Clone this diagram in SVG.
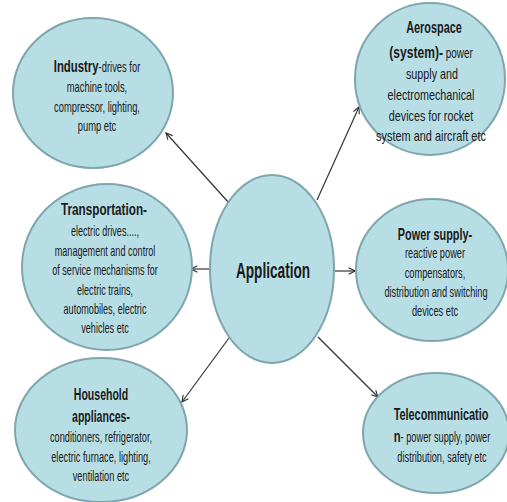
<svg xmlns="http://www.w3.org/2000/svg" width="507" height="502" viewBox="0 0 507 502">
  <style>
    .bubble { fill: #b7dde5; stroke: #7fa6ad; stroke-width: 2; }
    .t { font-family: "Liberation Sans", Arial, sans-serif; font-size: 14px; fill: #1a1a1a; text-anchor: middle; }
    .h { font-weight: bold; font-size: 17px; }
    .main { font-family: "Liberation Sans", Arial, sans-serif; font-weight: bold; font-size: 22px; fill: #1a1a1a; text-anchor: middle; }
    .link { stroke: #333; stroke-width: 1.2; fill: none; marker-end: url(#open); }
  </style>
  <defs>
    <marker id="open" viewBox="0 0 10 10" refX="9" refY="5" markerWidth="8" markerHeight="8" markerUnits="userSpaceOnUse" orient="auto">
      <path d="M1,1 L9,5 L1,9" fill="none" stroke="#333" stroke-width="1.4"/>
    </marker>
  </defs>
  <rect width="507" height="502" fill="#ffffff"/>

  <g id="connectors">
    <line class="link" x1="229" y1="203" x2="166" y2="133"/>
    <line class="link" x1="317" y1="200" x2="359" y2="107"/>
    <line class="link" x1="210" y1="269" x2="191" y2="269"/>
    <line class="link" x1="333" y1="271" x2="355" y2="271"/>
    <line class="link" x1="229" y1="338" x2="182" y2="402"/>
    <line class="link" x1="318" y1="337" x2="378" y2="397"/>
  </g>

  <!-- text is condensed horizontally with scale(sx,1) around each line's anchor -->
  <g id="industry">
    <ellipse class="bubble" cx="93" cy="93" rx="80" ry="75"/>
    <text class="t" transform="translate(97,72) scale(0.67,1)"><tspan class="h">Industry</tspan>-drives for</text>
    <text class="t" transform="translate(97,92) scale(0.67,1)">machine tools,</text>
    <text class="t" transform="translate(97,112) scale(0.67,1)">compressor, lighting,</text>
    <text class="t" transform="translate(97,131) scale(0.67,1)">pump etc</text>
  </g>

  <g id="aerospace">
    <ellipse class="bubble" cx="430" cy="79" rx="75" ry="76"/>
    <text class="t h" transform="translate(434,33) scale(0.64,1)">Aerospace</text>
    <text class="t" transform="translate(431,58) scale(0.71,1)"><tspan class="h">(system)-</tspan> power</text>
    <text class="t" transform="translate(432,79) scale(0.77,1)">supply and</text>
    <text class="t" transform="translate(431,100) scale(0.77,1)">electromechanical</text>
    <text class="t" transform="translate(431,121) scale(0.77,1)">devices for rocket</text>
    <text class="t" transform="translate(431,141) scale(0.78,1)">system and aircraft etc</text>
  </g>

  <g id="transportation">
    <ellipse class="bubble" cx="107" cy="267" rx="85" ry="83"/>
    <text class="t h" transform="translate(104,215) scale(0.69,1)">Transportation-</text>
    <text class="t" transform="translate(105,236) scale(0.65,1)">electric drives....,</text>
    <text class="t" transform="translate(105,256) scale(0.65,1)">management  and control</text>
    <text class="t" transform="translate(105,275) scale(0.65,1)">of service mechanisms for</text>
    <text class="t" transform="translate(105,295) scale(0.65,1)">electric trains,</text>
    <text class="t" transform="translate(105,314) scale(0.65,1)">automobiles, electric</text>
    <text class="t" transform="translate(105,333) scale(0.65,1)">vehicles etc</text>
  </g>

  <g id="application">
    <ellipse class="bubble" cx="272" cy="269" rx="62" ry="94"/>
    <text class="main" transform="translate(273,278) scale(0.62,1)">Application</text>
  </g>

  <g id="power-supply">
    <ellipse class="bubble" cx="432" cy="270" rx="76" ry="71"/>
    <text class="t h" transform="translate(435,240) scale(0.64,1)">Power supply-</text>
    <text class="t" transform="translate(435,258) scale(0.66,1)">reactive power</text>
    <text class="t" transform="translate(435,278) scale(0.66,1)">compensators,</text>
    <text class="t" transform="translate(436,297) scale(0.66,1)">distribution and switching</text>
    <text class="t" transform="translate(435,316) scale(0.66,1)">devices etc</text>
  </g>

  <g id="household">
    <ellipse class="bubble" cx="101" cy="430" rx="86" ry="72"/>
    <text class="t h" transform="translate(101,400) scale(0.62,1)">Household</text>
    <text class="t h" transform="translate(101,422) scale(0.62,1)">appliances-</text>
    <text class="t" transform="translate(101,442) scale(0.66,1)">conditioners, refrigerator,</text>
    <text class="t" transform="translate(101,462) scale(0.66,1)">electric furnace, lighting,</text>
    <text class="t" transform="translate(101,481) scale(0.66,1)">ventilation etc</text>
  </g>

  <g id="telecommunication">
    <ellipse class="bubble" cx="436" cy="433" rx="73" ry="60"/>
    <text class="t h" transform="translate(441,420) scale(0.64,1)">Telecommunicatio</text>
    <text class="t" transform="translate(442,442) scale(0.66,1)"><tspan class="h">n</tspan>- power supply, power</text>
    <text class="t" transform="translate(442,462) scale(0.66,1)">distribution, safety etc</text>
  </g>
</svg>
